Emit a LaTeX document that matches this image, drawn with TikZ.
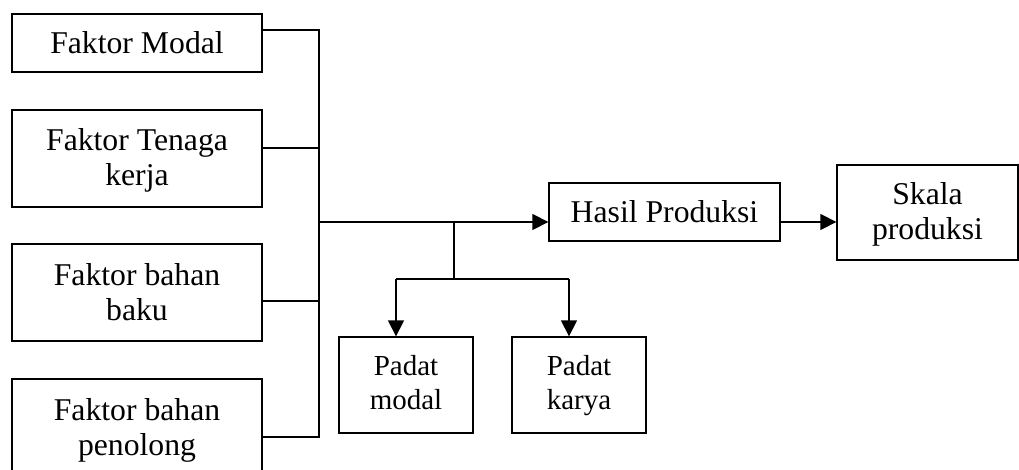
\documentclass[tikz,border=0pt]{standalone}
\usepackage{fontspec}
\setmainfont{Liberation Serif}
\usetikzlibrary{arrows.meta}
\newcommand{\myT}[1]{\rule{0pt}{#1}}
\newcommand{\myB}{\rule[-8pt]{0pt}{8pt}}
\begin{document}
\begin{tikzpicture}[x=1pt,y=-1pt,
  box/.style={draw, line width=1.3pt, rectangle, align=center, inner sep=0pt,
    font=\fontsize{31.7}{35}\selectfont},
  sbox/.style={box, font=\fontsize{29}{34}\selectfont},
  link/.style={line width=1.3pt},
  arr/.style={link, -{Triangle[length=16pt,width=16pt]}}]
\useasboundingbox (0,0) rectangle (1019,470);
% nodes
\node[box, minimum width=250pt, minimum height=58pt] (modal) at (137,43) {Faktor Modal};
\node[box, minimum width=250pt, minimum height=97pt] (tenaga) at (137,158.5) {\myT{28pt}Faktor Tenaga\\kerja\myB};
\node[box, minimum width=250pt, minimum height=97pt] (baku) at (137,292.5) {\myT{28pt}Faktor bahan\\baku\myB};
\node[box, minimum width=250pt, minimum height=97pt] (pen) at (137,427.5) {\myT{28pt}Faktor bahan\\penolong\myB};
\node[box, minimum width=231pt, minimum height=58pt] (hasil) at (664.5,212) {Hasil Produksi};
\node[box, minimum width=181pt, minimum height=95pt] (skala) at (927.5,212.5) {\myT{28pt}Skala\\produksi\myB};
\node[sbox, minimum width=134pt, minimum height=96pt] (pm) at (406,385) {\myT{22pt}Padat\\modal\myB};
\node[sbox, minimum width=134pt, minimum height=96pt] (pk) at (579,385) {\myT{22pt}Padat\\karya\myB};
% coordinates
\coordinate (t1) at (319,30);
\coordinate (t2) at (319,148);
\coordinate (t3) at (319,301);
\coordinate (t4) at (319,437);
\coordinate (j) at (319,222);
\coordinate (b) at (454,222);
\coordinate (bm) at (454,279);
\coordinate (bl) at (396,279);
\coordinate (br) at (569,279);
% connectors
\draw[link] (t1 -| modal.east) -- (t1) -- (t4) -- (t4 -| pen.east);
\draw[link] (t2 -| tenaga.east) -- (t2);
\draw[link] (t3 -| baku.east) -- (t3);
\draw[arr] (j) -- (j -| hasil.west);
\draw[link] (b) -- (bm);
\draw[link] (bl) -- (br);
\draw[arr] (bl) -- (bl |- pm.north);
\draw[arr] (br) -- (br |- pk.north);
\draw[arr] (j -| hasil.east) -- (j -| skala.west);
\end{tikzpicture}
\end{document}
